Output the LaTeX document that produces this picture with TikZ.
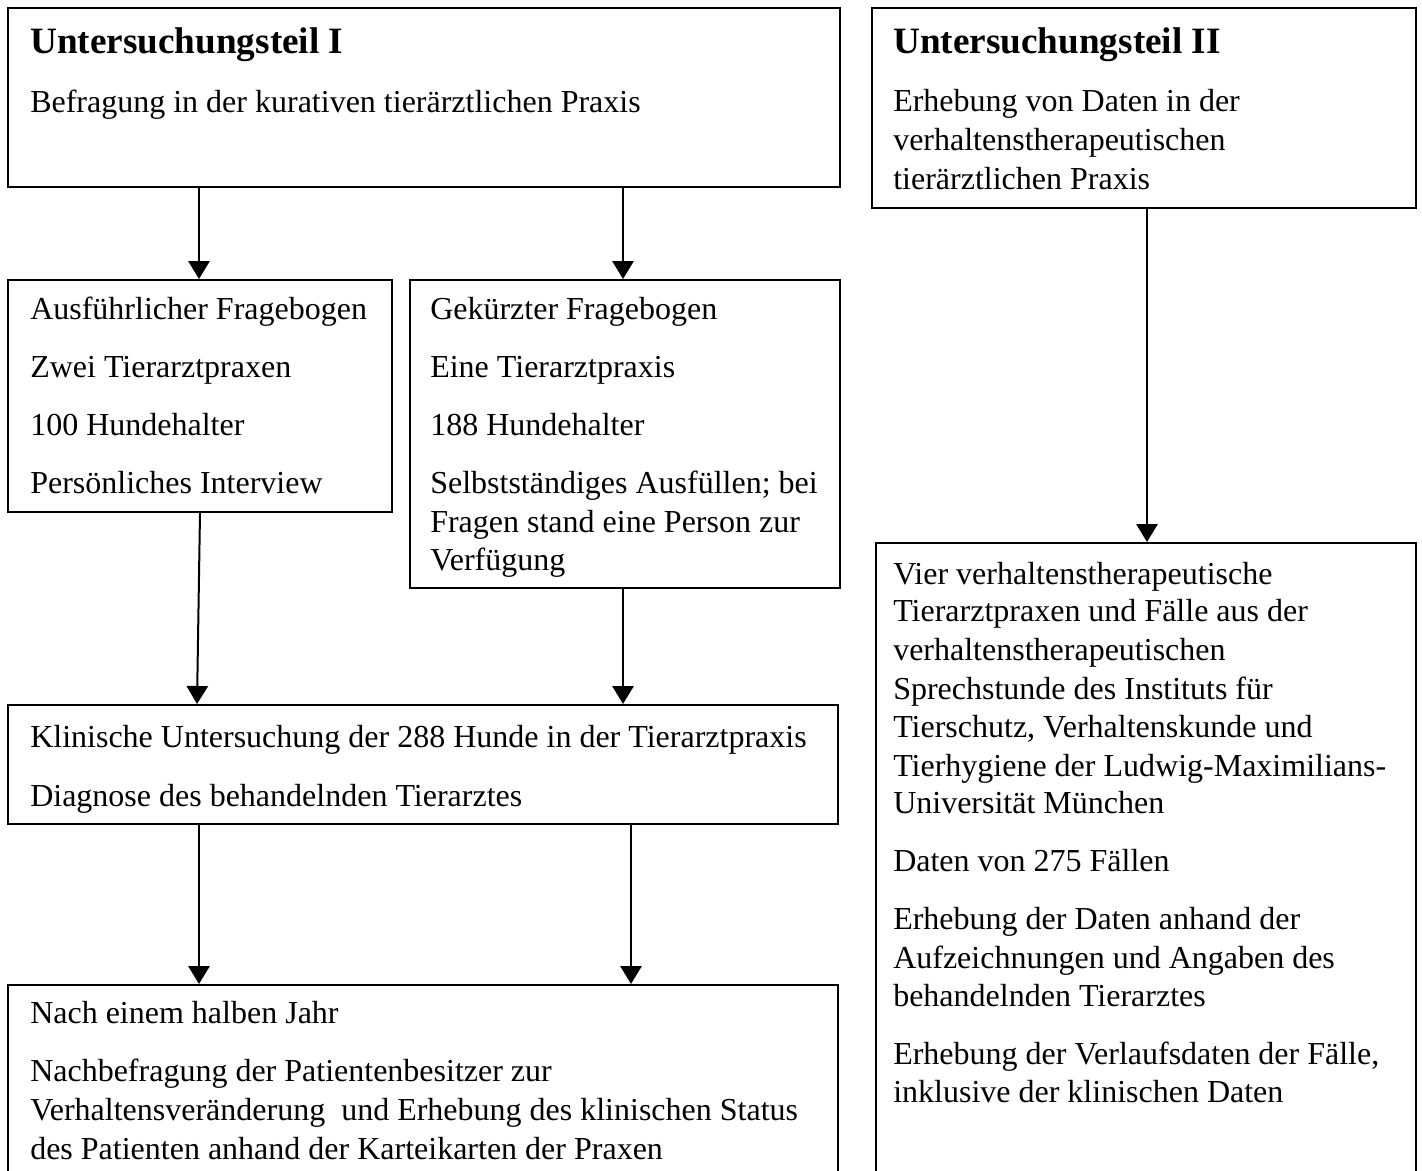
\documentclass[tikz,border=0pt]{standalone}
\usepackage{fontspec}
\setmainfont{Liberation Serif}
\usetikzlibrary{arrows.meta,fit,calc}
\begin{document}
\begin{tikzpicture}[x=0.75pt,y=-0.75pt,
  box/.style={draw, line width=1.5pt, inner sep=0pt},
  arr/.style={line width=1.5pt, -{Triangle[width=16pt,length=13.5pt]}},
  txt/.style={anchor=base west, inner sep=0pt, font=\fontsize{24}{29}\selectfont},
  ttl/.style={anchor=base west, inner sep=0pt, font=\fontsize{27.9}{33}\selectfont\bfseries}]
\clip (0,0) rectangle (1422,1171);
\fill[white] (0,0) rectangle (1422,1171);
% boxes
\node[box, fit={(8,8)(840,187)}] (b1) {};
\node[box, fit={(872,8)(1416,208)}] (b2) {};
\node[box, fit={(8,280)(392,512)}] (b3) {};
\node[box, fit={(410,280)(840,588)}] (b4) {};
\node[box, fit={(8,705)(838,824)}] (b5) {};
\node[box, fit={(8,985)(838,1200)}] (b6) {};
\node[box, fit={(876,543)(1416,1200)}] (b7) {};
% box 1
\node[ttl] (t1a) at (30,53) {Untersuchungsteil I};
\node[txt] (t1b) at (30,112) {Befragung in der kurativen tierärztlichen Praxis};
% box 2
\node[ttl] (t2a) at (893,53) {Untersuchungsteil II};
\node[txt] (t2b) at (893,111) {Erhebung von Daten in der};
\node[txt] (t2c) at (893,150) {verhaltenstherapeutischen};
\node[txt] (t2d) at (893,189) {tierärztlichen Praxis};
% box 3
\node[txt] (t3a) at (30,319) {Ausführlicher Fragebogen};
\node[txt] (t3b) at (30,377) {Zwei Tierarztpraxen};
\node[txt] (t3c) at (30,435) {100 Hundehalter};
\node[txt] (t3d) at (30,493) {Persönliches Interview};
% box 4
\node[txt] (t4a) at (430,319) {Gekürzter Fragebogen};
\node[txt] (t4b) at (430,377) {Eine Tierarztpraxis};
\node[txt] (t4c) at (430,435) {188 Hundehalter};
\node[txt] (t4d) at (430,493) {Selbstständiges Ausfüllen; bei};
\node[txt] (t4e) at (430,532) {Fragen stand eine Person zur};
\node[txt] (t4f) at (430,570) {Verfügung};
% box 5
\node[txt] (t5a) at (30,747) {Klinische Untersuchung der 288 Hunde in der Tierarztpraxis};
\node[txt] (t5b) at (30,806) {Diagnose des behandelnden Tierarztes};
% box 6
\node[txt] (t6a) at (30,1023) {Nach einem halben Jahr};
\node[txt] (t6b) at (30,1081) {Nachbefragung der Patientenbesitzer zur};
\node[txt] (t6c) at (30,1120) {Verhaltensveränderung\ \ und Erhebung des klinischen Status};
\node[txt] (t6d) at (30,1159) {des Patienten anhand der Karteikarten der Praxen};
% box 7
\node[txt] (t7a) at (893,584) {Vier verhaltenstherapeutische};
\node[txt] (t7b) at (893,621) {Tierarztpraxen und Fälle aus der};
\node[txt] (t7c) at (893,660) {verhaltenstherapeutischen};
\node[txt] (t7d) at (893,699) {Sprechstunde des Instituts für};
\node[txt] (t7e) at (893,737) {Tierschutz, Verhaltenskunde und};
\node[txt] (t7f) at (893,776) {Tierhygiene der Ludwig-Maximilians-};
\node[txt] (t7g) at (893,813) {Universität München};
\node[txt] (t7h) at (893,871) {Daten von 275 Fällen};
\node[txt] (t7i) at (893,929) {Erhebung der Daten anhand der};
\node[txt] (t7j) at (893,968) {Aufzeichnungen und Angaben des};
\node[txt] (t7k) at (893,1006) {behandelnden Tierarztes};
\node[txt] (t7l) at (893,1064) {Erhebung der Verlaufsdaten der Fälle,};
\node[txt] (t7m) at (893,1102) {inklusive der klinischen Daten};
% arrows
\draw[arr] ($(b1.south west)+(192,0)$) -- ($(b3.north west)+(192,0)$);
\draw[arr] ($(b1.south west)+(616,0)$) -- ($(b4.north west)+(214,0)$);
\draw[arr] ($(b3.south west)+(193,0)$) -- ($(b5.north west)+(190,0)$);
\draw[arr] ($(b4.south west)+(214,0)$) -- ($(b5.north west)+(616,0)$);
\draw[arr] ($(b5.south west)+(192,0)$) -- ($(b6.north west)+(192,0)$);
\draw[arr] ($(b5.south west)+(624,0)$) -- ($(b6.north west)+(624,0)$);
\draw[arr] ($(b2.south west)+(276,0)$) -- ($(b7.north west)+(272,0)$);
\end{tikzpicture}
\end{document}
